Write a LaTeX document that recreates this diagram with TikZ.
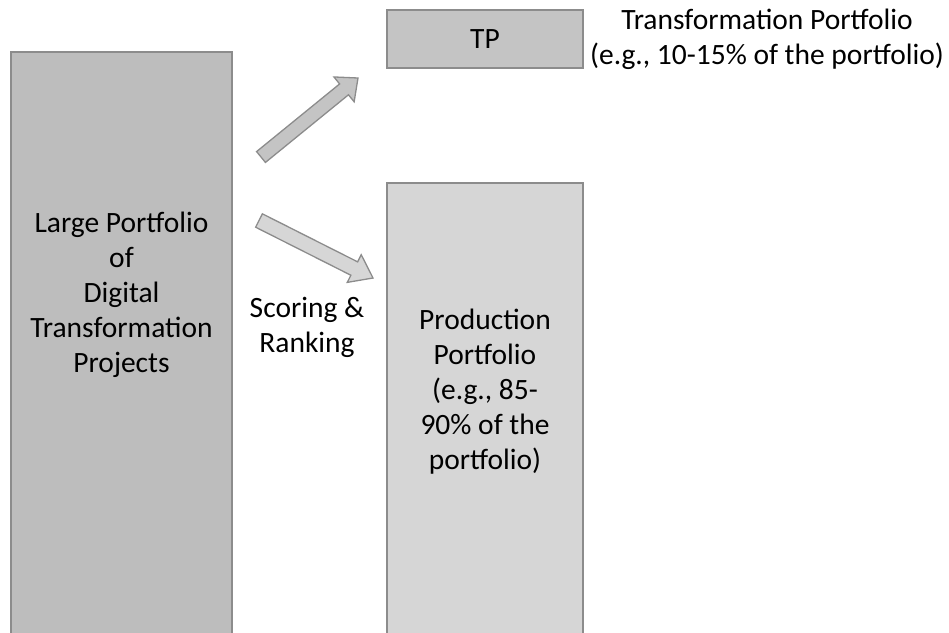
\documentclass[tikz,border=0pt]{standalone}
\usepackage{fontspec}
\setmainfont{Carlito}
\usetikzlibrary{calc}
\definecolor{edgegray}{HTML}{8C8C8C}
\definecolor{darkfill}{HTML}{BDBDBD}
\definecolor{midfill}{HTML}{C4C4C4}
\definecolor{lightfill}{HTML}{D6D6D6}
\tikzset{
  box/.style={draw=edgegray, line width=1.5pt},
  lbl/.style={align=center, font=\fontsize{29.5}{35}\selectfont, inner sep=0pt},
  blockarrow/.style={draw=edgegray, line width=1.3pt, line join=miter}
}
\begin{document}
\begin{tikzpicture}[x=1pt,y=-1pt]
\useasboundingbox (0,0) rectangle (949,632);
% boxes
\draw[box, fill=darkfill] (11,640) -- (11,52) -- (232,52) -- (232,640);
\node[lbl] (large) at (121.5,295) {Large Portfolio\\of\\Digital\\Transformation\\Projects};
\node[box, fill=midfill, minimum width=196pt, minimum height=58pt, inner sep=0pt] (tp) at (485,39) {};
\node[lbl] (tplbl) at (tp.center) {TP};
\draw[box, fill=lightfill] (387,640) -- (387,183) -- (583,183) -- (583,640);
\node[lbl] (prod) at (485,392) {Production\\Portfolio\\(e.g., 85-\\90\% of the\\portfolio)};
\node[lbl] (tpdesc) at (767,39) {Transformation Portfolio\\(e.g., 10-15\% of the portfolio)};
\node[lbl] (score) at (307,327) {Scoring \&\\Ranking};
% block arrows
\coordinate (ut) at (261,157);
\coordinate (up) at (358,78);
\coordinate (uh) at ($(up)!18pt!(ut)$);
\draw[blockarrow, fill=midfill]
  ($(ut)!7pt!90:(up)$) -- ($(uh)!7pt!90:(up)$) -- ($(uh)!16pt!90:(up)$) -- (up)
  -- ($(uh)!16pt!-90:(up)$) -- ($(uh)!7pt!-90:(up)$) -- ($(ut)!7pt!-90:(up)$) -- cycle;
\coordinate (lt) at (259,220.5);
\coordinate (lp) at (373,278);
\coordinate (lh) at ($(lp)!21pt!(lt)$);
\draw[blockarrow, fill=lightfill]
  ($(lt)!7.5pt!90:(lp)$) -- ($(lh)!7.5pt!90:(lp)$) -- ($(lh)!15.5pt!90:(lp)$) -- (lp)
  -- ($(lh)!15.5pt!-90:(lp)$) -- ($(lh)!7.5pt!-90:(lp)$) -- ($(lt)!7.5pt!-90:(lp)$) -- cycle;
\end{tikzpicture}
\end{document}
